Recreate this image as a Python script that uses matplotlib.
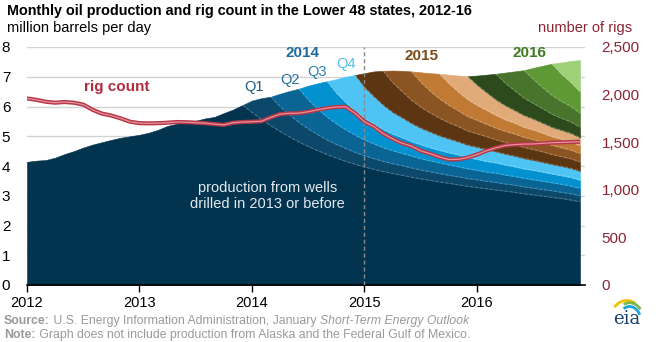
import numpy as np
import matplotlib.pyplot as plt
from matplotlib.patches import Arc

plt.rcParams['font.family'] = ['Liberation Sans', 'DejaVu Sans']

# monthly values, Jan 2012 .. Dec 2016
months = np.arange(60)
x = 2012 + months / 12.0

# top of production from wells drilled in 2013 or before (million b/d)
old_wells = [4.14, 4.18, 4.20, 4.28, 4.40, 4.50, 4.62, 4.72, 4.80, 4.88, 4.95, 5.00,
             5.05, 5.12, 5.22, 5.35, 5.42, 5.50, 5.52, 5.60, 5.65, 5.78, 5.90, 6.05,
             5.80, 5.57, 5.36, 5.16, 4.98, 4.81, 4.66, 4.52, 4.39, 4.27, 4.16, 4.06,
             3.97, 3.89, 3.82, 3.75, 3.69, 3.63, 3.57, 3.52, 3.47, 3.42, 3.37, 3.32,
             3.28, 3.24, 3.20, 3.16, 3.12, 3.07, 3.03, 2.99, 2.95, 2.91, 2.86, 2.80]

# stacked tops of each quarterly well vintage, from the month it starts
q1_2014 = [6.20, 6.28, 6.33, 6.00, 5.72, 5.47, 5.25, 5.06, 4.88, 4.73, 4.59, 4.46,
           4.35, 4.25, 4.16, 4.08, 4.01, 3.94, 3.87, 3.81, 3.75, 3.69, 3.64, 3.58,
           3.54, 3.49, 3.45, 3.40, 3.36, 3.30, 3.26, 3.21, 3.17, 3.12, 3.07, 3.00]
q2_2014 = [6.43, 6.52, 6.60, 6.23, 5.92, 5.65, 5.42, 5.22, 5.04, 4.88, 4.75, 4.62,
           4.52, 4.43, 4.34, 4.25, 4.18, 4.11, 4.04, 3.98, 3.91, 3.86, 3.80, 3.76,
           3.70, 3.65, 3.59, 3.54, 3.49, 3.44, 3.39, 3.33, 3.25]
q3_2014 = [6.70, 6.78, 6.85, 6.46, 6.14, 5.86, 5.61, 5.42, 5.23, 5.08, 4.96, 4.83,
           4.72, 4.62, 4.53, 4.45, 4.38, 4.29, 4.23, 4.16, 4.11, 4.04, 3.98, 3.91,
           3.86, 3.80, 3.74, 3.68, 3.62, 3.53]
q4_2014 = [6.92, 7.00, 7.06, 6.65, 6.34, 6.05, 5.81, 5.63, 5.44, 5.28, 5.15, 5.02,
           4.92, 4.82, 4.71, 4.64, 4.56, 4.49, 4.41, 4.34, 4.26, 4.20, 4.13, 4.06,
           4.00, 3.93, 3.83]
q1_2015 = [7.12, 7.18, 7.20, 6.81, 6.51, 6.22, 5.98, 5.79, 5.61, 5.46, 5.33, 5.18,
           5.09, 4.99, 4.89, 4.80, 4.72, 4.63, 4.56, 4.48, 4.39, 4.32, 4.25, 4.14]
q2_2015 = [7.21, 7.20, 7.18, 6.82, 6.52, 6.26, 6.05, 5.86, 5.67, 5.54, 5.41, 5.28,
           5.17, 5.08, 4.97, 4.89, 4.80, 4.70, 4.62, 4.54, 4.42]
q3_2015 = [7.15, 7.12, 7.10, 6.78, 6.50, 6.24, 6.05, 5.88, 5.71, 5.56, 5.45, 5.31,
           5.22, 5.11, 4.99, 4.91, 4.82, 4.69]
q4_2015 = [7.07, 7.04, 7.02, 6.73, 6.48, 6.24, 6.04, 5.88, 5.71, 5.59, 5.45, 5.31,
           5.21, 5.11, 4.96]
q1_2016 = [7.04, 7.07, 7.10, 6.79, 6.54, 6.29, 6.11, 5.93, 5.75, 5.61, 5.49, 5.31]
q2_2016 = [7.14, 7.18, 7.22, 6.92, 6.64, 6.38, 6.18, 6.01, 5.78]
q3_2016 = [7.30, 7.37, 7.44, 7.10, 6.82, 6.50]
q4_2016 = [7.48, 7.53, 7.56]

# Lower 48 rig count
rigs = [1960, 1945, 1925, 1915, 1922, 1915, 1895, 1840, 1800, 1780, 1750, 1715,
        1700, 1698, 1700, 1705, 1712, 1710, 1705, 1700, 1690, 1682, 1705, 1712,
        1715, 1720, 1760, 1795, 1803, 1805, 1820, 1840, 1858, 1870, 1872, 1805,
        1715, 1665, 1590, 1535, 1490, 1460, 1410, 1380, 1345, 1318, 1320, 1338,
        1370, 1410, 1440, 1465, 1475, 1480, 1482, 1488, 1495, 1498, 1502, 1505]

layers = [
    (24, q1_2014, '#0c4869'),
    (27, q2_2014, '#0a6494'),
    (30, q3_2014, '#0391d0'),
    (33, q4_2014, '#4ec4f5'),
    (36, q1_2015, '#5c3613'),
    (39, q2_2015, '#8b5523'),
    (42, q3_2015, '#c07a34'),
    (45, q4_2015, '#e0aa79'),
    (48, q1_2016, '#2c4a1b'),
    (51, q2_2016, '#48752b'),
    (54, q3_2016, '#5e9936'),
    (57, q4_2016, '#9dd079'),
]

fig = plt.figure(figsize=(6.62, 3.42), dpi=100)
W, H = 662.0, 342.0
ax = fig.add_axes([27 / W, 1 - 285 / H, (585 - 27) / W, (285 - 47) / H])
ax.set_xlim(2012, 2016.961)
ax.set_ylim(0, 8)

ax.set_yticks(range(9))
ax.grid(axis='y', color='#d2d2d2', lw=1)
ax.set_axisbelow(True)

base = np.array(old_wells)
ax.fill_between(x, 0, base, color='#03344f', lw=0.4, ec='#03344f')
prev = base
for start, tops, color in layers:
    top = prev.copy()
    top[start:] = tops
    sl = slice(start - 1, None)
    ax.fill_between(x[sl], prev[sl], top[sl], color=color, lw=0.4, ec=color)
    prev = top

# faint lines between vintages where they decline
prev = base
ax.plot(x[23:], base[23:], color='white', alpha=0.3, lw=0.6, ls=(0, (4, 2)))
for start, tops, color in layers[:-1]:
    top = prev.copy()
    top[start:] = tops
    ax.plot(x[start + 2:], top[start + 2:], color='white', alpha=0.3, lw=0.6,
            ls=(0, (4, 2)))
    prev = top

ax.axvline(2015, color='#8a8a8a', lw=1, ls=(0, (3, 2)), zorder=3)

for s in ['top', 'left', 'right']:
    ax.spines[s].set_visible(False)
ax.spines['bottom'].set_color('black')
ax.spines['bottom'].set_linewidth(1.2)
ax.set_xticks([2012, 2013, 2014, 2015, 2016])
ax.set_xticklabels(['2012', '2013', '2014', '2015', '2016'])
ax.tick_params(axis='x', direction='out', length=5, width=1, color='black',
               labelsize=10.5, pad=3)
ax.tick_params(axis='y', length=0, pad=12, labelsize=11)

ax2 = ax.twinx()
ax2.set_ylim(0, 2500)
ax2.plot(x, rigs, color='#b5384a', lw=3.0, solid_capstyle='butt')
ax2.plot(x, rigs, color='#e6909b', lw=0.9)
ax2.set_yticks([0, 500, 1000, 1500, 2000, 2500])
ax2.set_yticklabels(['0', '500', '1,000', '1,500', '2,000', '2,500'])
ax2.tick_params(axis='y', length=0, pad=12, labelsize=11, labelcolor='#8a2433')
for s in ax2.spines.values():
    s.set_visible(False)

# labels inside the plot
ax.text(2012.8, 6.66, 'rig count', color='#b22d3f', fontsize=11, fontweight='bold',
        ha='center', va='center')
ax.text(2014.14, 2.99, 'production from wells\ndrilled in 2013 or before',
        color='#e2eaf0', fontsize=10.5, ha='center', va='center', linespacing=1.1)
ax.text(2014.453, 7.80, '2014', color='#1f6b9e', fontsize=11, fontweight='bold',
        ha='center', va='center')
ax.text(2014.018, 6.66, 'Q1', color='#1d5a82', fontsize=10.5, ha='center', va='center')
ax.text(2014.338, 6.89, 'Q2', color='#23709f', fontsize=10.5, ha='center', va='center')
ax.text(2014.578, 7.16, 'Q3', color='#2a7eb0', fontsize=10.5, ha='center', va='center')
ax.text(2014.836, 7.43, 'Q4', color='#50c0ee', fontsize=10.5, ha='center', va='center')
ax.text(2015.511, 7.70, '2015', color='#7d4a1c', fontsize=11, fontweight='bold',
        ha='center', va='center')
ax.text(2016.471, 7.80, '2016', color='#3f7b22', fontsize=11, fontweight='bold',
        ha='center', va='center')

# titles
fig.text(7 / W, 1 - 11 / H, 'Monthly oil production and rig count in the Lower 48 states, 2012-16',
         fontsize=10.4, fontweight='bold', ha='left', va='center')
fig.text(7 / W, 1 - 28 / H, 'million barrels per day', fontsize=10.5, ha='left', va='center')
fig.text(632 / W, 1 - 28 / H, 'number of rigs', fontsize=10.5, color='#8a2433',
         ha='right', va='center')


def run_text(px, py, parts):
    r = fig.canvas.get_renderer()
    fx = px / W
    for s, kw in parts:
        t = fig.text(fx, 1 - py / H, s, va='center', ha='left', fontsize=8.8,
                     color='#9a9a9a', **kw)
        fx += t.get_window_extent(renderer=r).width / fig.bbox.width


run_text(4, 321, [('Source:', {'fontweight': 'bold'}),
                  (' U.S. Energy Information Administration, January ', {}),
                  ('Short-Term Energy Outlook', {'style': 'italic'})])
run_text(4, 335, [('Note:', {'fontweight': 'bold'}),
                  (' Graph does not include production from Alaska and the Federal Gulf of Mexico.', {})])

# eia logo
lg = fig.add_axes([606 / W, 1 - 326 / H, 38 / W, 30 / H])
lg.set_xlim(0, 1)
lg.set_ylim(0, 1)
lg.axis('off')
lg.add_patch(Arc((0.55, 0.15), 0.9, 1.4, theta1=70, theta2=125, color='#f2c200', lw=2))
lg.add_patch(Arc((0.62, 0.15), 0.75, 1.25, theta1=55, theta2=105, color='#7ab648', lw=2))
lg.add_patch(Arc((0.62, 0.15), 0.6, 1.0, theta1=40, theta2=110, color='#1aa3dd', lw=2))
lg.text(0.55, 0.22, 'eia', fontsize=13, color='#17406e', family='DejaVu Serif',
        ha='center', va='center')

fig.savefig('out.png', dpi=100)
